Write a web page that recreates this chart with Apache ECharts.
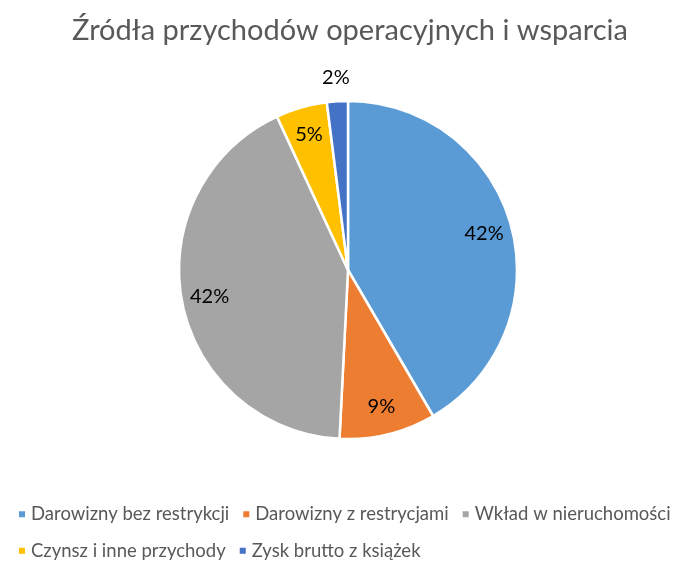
<!DOCTYPE html>
<html><head><meta charset="utf-8">
<script src="https://cdn.jsdelivr.net/npm/echarts@6/dist/echarts.min.js"></script>
<style>html,body{margin:0;padding:0;background:#fff}#c{width:700px;height:575px}</style>
</head><body><div id="c"></div>
<script>
const titleText = 'Źródła przychodów operacyjnych i wsparcia';
const categories = ['Darowizny bez restrykcji','Darowizny z restrycjami','Wkład w nieruchomości','Czynsz i inne przychody','Zysk brutto z książek'];
const values = [41.6, 9.2, 42.3, 4.9, 2.0];
const colors = ['#5B9BD5','#ED7D31','#A5A5A5','#FFC000','#4472C4'];
const outerLabelIdx = [4];

const FONT = 'Lato';
const center = [348, 270];
const R = 169;
const data = categories.map((n,i)=>({name:n, value:values[i]}));

const chart = echarts.init(document.getElementById('c'));
chart.setOption({
  animation:false,
  color: colors,
  title:{text:titleText, left:'center', top:11, textStyle:{fontFamily:FONT, fontSize:29, fontWeight:'normal', color:'#595959'}},
  legend:{
    left:12, top:497, width:685, itemGap:12, itemWidth:8, itemHeight:8, icon:'rect',
    data: categories,
    textStyle:{fontFamily:FONT, fontSize:18.5, color:'#595959', lineHeight:24.5, padding:[0,0,0,0]}
  },
  series:[
    {type:'pie', center:center, radius:[0,R], startAngle:90, clockwise:true,
     data:data, label:{show:false}, labelLine:{show:false},
     itemStyle:{borderColor:'#fff', borderWidth:2.5}},
    {type:'pie', center:center, radius:[107,R], startAngle:90, clockwise:true, silent:true,
     data:data.map((d,i)=>({name:d.name, value:d.value, itemStyle:{color:'rgba(0,0,0,0)'},
       label:{show: outerLabelIdx.indexOf(i)<0}})),
     percentPrecision:0,
     label:{position:'inside', formatter:'{d}%', fontFamily:FONT, fontSize:20, color:'#000'},
     labelLine:{show:false}, itemStyle:{color:'rgba(0,0,0,0)'}},
    {type:'pie', center:center, radius:[R,211], startAngle:90, clockwise:true, silent:true,
     data:data.map((d,i)=>({name:d.name, value:d.value, itemStyle:{color:'rgba(0,0,0,0)'},
       label:{show: outerLabelIdx.indexOf(i)>=0}})),
     percentPrecision:0,
     label:{position:'inside', formatter:'{d}%', fontFamily:FONT, fontSize:20, color:'#000'},
     labelLine:{show:false}, itemStyle:{color:'rgba(0,0,0,0)'}}
  ]
});
</script></body></html>
